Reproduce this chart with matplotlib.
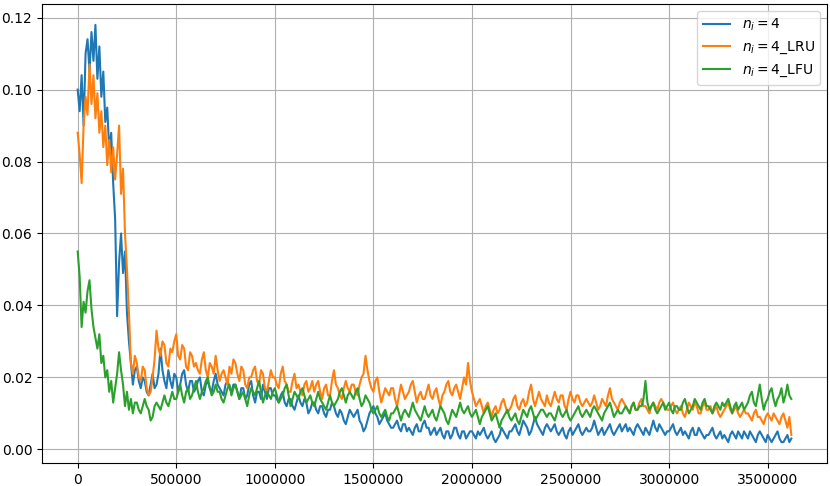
import numpy as np
import matplotlib
matplotlib.use('Agg')
import matplotlib.pyplot as plt

# training steps, one logged value every 10000 steps
steps = np.arange(0, 3620001, 10000)

n4 = [0.100, 0.094, 0.104, 0.090, 0.110, 0.114, 0.105, 0.116, 0.108, 0.118,
      0.103, 0.112, 0.098, 0.105, 0.091, 0.095, 0.083, 0.088, 0.074, 0.064,
      0.037, 0.052, 0.060, 0.049, 0.055, 0.038, 0.030, 0.024, 0.018, 0.022,
      0.023, 0.019, 0.017, 0.020, 0.019, 0.016, 0.015, 0.018, 0.021, 0.017,
      0.018, 0.021, 0.028, 0.022, 0.019, 0.017, 0.022, 0.019, 0.017, 0.021,
      0.020, 0.016, 0.018, 0.021, 0.022, 0.018, 0.016, 0.019, 0.019, 0.016,
      0.017, 0.019, 0.020, 0.016, 0.015, 0.018, 0.019, 0.017, 0.016, 0.019,
      0.021, 0.018, 0.017, 0.016, 0.015, 0.018, 0.019, 0.017, 0.016, 0.018,
      0.018, 0.016, 0.014, 0.017, 0.017, 0.014, 0.015, 0.018, 0.019, 0.015,
      0.013, 0.016, 0.016, 0.014, 0.018, 0.016, 0.014, 0.017, 0.017, 0.015,
      0.015, 0.014, 0.013, 0.015, 0.016, 0.013, 0.012, 0.014, 0.014, 0.012,
      0.011, 0.013, 0.015, 0.013, 0.012, 0.014, 0.013, 0.010, 0.011, 0.013,
      0.013, 0.011, 0.010, 0.012, 0.012, 0.010, 0.009, 0.011, 0.011, 0.013,
      0.012, 0.010, 0.009, 0.011, 0.010, 0.008, 0.007, 0.009, 0.011, 0.010,
      0.009, 0.010, 0.011, 0.008, 0.007, 0.005, 0.006, 0.008, 0.010, 0.011,
      0.012, 0.010, 0.009, 0.007, 0.008, 0.009, 0.010, 0.008, 0.007, 0.006,
      0.006, 0.007, 0.008, 0.006, 0.005, 0.007, 0.007, 0.005, 0.006, 0.005,
      0.004, 0.006, 0.007, 0.005, 0.005, 0.007, 0.008, 0.006, 0.006, 0.004,
      0.005, 0.006, 0.004, 0.005, 0.006, 0.004, 0.003, 0.005, 0.005, 0.003,
      0.004, 0.006, 0.006, 0.004, 0.003, 0.005, 0.005, 0.003, 0.004, 0.005,
      0.005, 0.004, 0.003, 0.005, 0.004, 0.005, 0.006, 0.004, 0.003, 0.004,
      0.005, 0.003, 0.002, 0.003, 0.004, 0.006, 0.005, 0.004, 0.003, 0.005,
      0.005, 0.006, 0.007, 0.005, 0.004, 0.006, 0.008, 0.007, 0.006, 0.004,
      0.005, 0.007, 0.009, 0.007, 0.006, 0.005, 0.004, 0.006, 0.007, 0.006,
      0.005, 0.006, 0.007, 0.005, 0.004, 0.005, 0.006, 0.004, 0.003, 0.005,
      0.006, 0.004, 0.005, 0.006, 0.007, 0.005, 0.004, 0.005, 0.006, 0.005,
      0.005, 0.006, 0.008, 0.006, 0.004, 0.005, 0.006, 0.004, 0.005, 0.006,
      0.007, 0.005, 0.004, 0.005, 0.006, 0.007, 0.005, 0.006, 0.007, 0.005,
      0.006, 0.005, 0.004, 0.006, 0.007, 0.006, 0.005, 0.004, 0.006, 0.005,
      0.004, 0.006, 0.008, 0.006, 0.005, 0.007, 0.006, 0.005, 0.004, 0.005,
      0.005, 0.006, 0.007, 0.005, 0.004, 0.005, 0.006, 0.004, 0.005, 0.004,
      0.003, 0.005, 0.006, 0.004, 0.004, 0.006, 0.005, 0.004, 0.003, 0.004,
      0.004, 0.005, 0.006, 0.004, 0.003, 0.004, 0.005, 0.003, 0.004, 0.003,
      0.002, 0.004, 0.005, 0.004, 0.003, 0.005, 0.004, 0.003, 0.005, 0.004,
      0.003, 0.005, 0.004, 0.003, 0.002, 0.004, 0.005, 0.004, 0.003, 0.002,
      0.004, 0.003, 0.002, 0.003, 0.004, 0.005, 0.003, 0.002, 0.002, 0.003,
      0.004, 0.002, 0.003]

n4_lru = [0.088, 0.082, 0.074, 0.090, 0.098, 0.093, 0.107, 0.096, 0.104, 0.092,
          0.099, 0.088, 0.094, 0.084, 0.090, 0.079, 0.086, 0.077, 0.084, 0.075,
          0.082, 0.090, 0.071, 0.078, 0.060, 0.050, 0.038, 0.024, 0.021, 0.026,
          0.024, 0.020, 0.019, 0.023, 0.022, 0.017, 0.015, 0.016, 0.020, 0.025,
          0.033, 0.028, 0.026, 0.030, 0.029, 0.024, 0.023, 0.028, 0.027, 0.030,
          0.032, 0.026, 0.025, 0.029, 0.028, 0.023, 0.022, 0.027, 0.026, 0.023,
          0.024, 0.022, 0.021, 0.025, 0.027, 0.022, 0.020, 0.024, 0.023, 0.021,
          0.026, 0.022, 0.019, 0.021, 0.022, 0.020, 0.018, 0.023, 0.021, 0.025,
          0.024, 0.021, 0.019, 0.023, 0.022, 0.018, 0.017, 0.020, 0.020, 0.022,
          0.023, 0.019, 0.018, 0.022, 0.021, 0.017, 0.016, 0.019, 0.022, 0.020,
          0.020, 0.018, 0.017, 0.021, 0.023, 0.019, 0.018, 0.016, 0.016, 0.019,
          0.021, 0.017, 0.018, 0.016, 0.015, 0.018, 0.019, 0.016, 0.017, 0.019,
          0.016, 0.018, 0.019, 0.016, 0.014, 0.017, 0.018, 0.015, 0.015, 0.019,
          0.022, 0.018, 0.017, 0.015, 0.014, 0.017, 0.019, 0.017, 0.016, 0.018,
          0.018, 0.016, 0.015, 0.018, 0.020, 0.021, 0.026, 0.022, 0.019, 0.017,
          0.016, 0.019, 0.020, 0.016, 0.013, 0.015, 0.017, 0.016, 0.015, 0.017,
          0.017, 0.014, 0.012, 0.015, 0.018, 0.016, 0.014, 0.015, 0.016, 0.018,
          0.019, 0.016, 0.013, 0.015, 0.016, 0.014, 0.014, 0.016, 0.018, 0.015,
          0.014, 0.016, 0.017, 0.014, 0.012, 0.015, 0.016, 0.018, 0.019, 0.016,
          0.015, 0.017, 0.018, 0.016, 0.014, 0.017, 0.020, 0.018, 0.024, 0.019,
          0.016, 0.014, 0.012, 0.013, 0.014, 0.012, 0.010, 0.012, 0.013, 0.011,
          0.009, 0.011, 0.012, 0.010, 0.011, 0.013, 0.014, 0.012, 0.010, 0.011,
          0.012, 0.014, 0.015, 0.012, 0.011, 0.013, 0.014, 0.012, 0.013, 0.016,
          0.018, 0.014, 0.012, 0.014, 0.016, 0.014, 0.013, 0.012, 0.015, 0.013,
          0.012, 0.014, 0.016, 0.014, 0.013, 0.015, 0.015, 0.012, 0.011, 0.014,
          0.016, 0.014, 0.013, 0.015, 0.015, 0.013, 0.012, 0.013, 0.014, 0.013,
          0.012, 0.013, 0.015, 0.013, 0.011, 0.012, 0.014, 0.013, 0.012, 0.015,
          0.017, 0.014, 0.013, 0.012, 0.011, 0.013, 0.014, 0.013, 0.012, 0.011,
          0.010, 0.012, 0.013, 0.011, 0.011, 0.013, 0.014, 0.012, 0.012, 0.011,
          0.010, 0.012, 0.013, 0.012, 0.011, 0.013, 0.014, 0.013, 0.012, 0.011,
          0.011, 0.012, 0.013, 0.011, 0.010, 0.011, 0.012, 0.010, 0.009, 0.011,
          0.013, 0.012, 0.011, 0.013, 0.012, 0.010, 0.010, 0.012, 0.013, 0.011,
          0.011, 0.012, 0.010, 0.011, 0.012, 0.010, 0.009, 0.010, 0.011, 0.012,
          0.013, 0.011, 0.010, 0.011, 0.012, 0.010, 0.009, 0.010, 0.011, 0.010,
          0.010, 0.009, 0.008, 0.010, 0.011, 0.009, 0.009, 0.008, 0.007, 0.009,
          0.010, 0.009, 0.008, 0.010, 0.009, 0.008, 0.007, 0.009, 0.010, 0.008,
          0.006, 0.009, 0.004]

n4_lfu = [0.055, 0.048, 0.034, 0.041, 0.038, 0.044, 0.047, 0.039, 0.034, 0.031,
          0.028, 0.032, 0.024, 0.026, 0.020, 0.022, 0.016, 0.019, 0.013, 0.017,
          0.021, 0.027, 0.022, 0.018, 0.012, 0.016, 0.011, 0.014, 0.010, 0.013,
          0.013, 0.011, 0.010, 0.012, 0.014, 0.012, 0.011, 0.008, 0.009, 0.012,
          0.013, 0.012, 0.011, 0.013, 0.015, 0.013, 0.012, 0.014, 0.016, 0.014,
          0.014, 0.016, 0.018, 0.015, 0.013, 0.016, 0.017, 0.014, 0.015, 0.017,
          0.019, 0.016, 0.014, 0.016, 0.017, 0.019, 0.020, 0.017, 0.015, 0.016,
          0.018, 0.016, 0.016, 0.014, 0.013, 0.015, 0.017, 0.018, 0.015, 0.017,
          0.018, 0.016, 0.014, 0.015, 0.016, 0.014, 0.012, 0.015, 0.017, 0.016,
          0.015, 0.017, 0.019, 0.016, 0.013, 0.015, 0.016, 0.015, 0.014, 0.016,
          0.017, 0.015, 0.013, 0.014, 0.015, 0.017, 0.018, 0.015, 0.012, 0.014,
          0.016, 0.015, 0.014, 0.016, 0.017, 0.015, 0.013, 0.014, 0.015, 0.013,
          0.012, 0.014, 0.016, 0.014, 0.013, 0.012, 0.011, 0.013, 0.015, 0.013,
          0.012, 0.013, 0.014, 0.016, 0.017, 0.015, 0.013, 0.015, 0.016, 0.015,
          0.014, 0.016, 0.017, 0.014, 0.012, 0.013, 0.015, 0.014, 0.013, 0.011,
          0.010, 0.011, 0.012, 0.010, 0.009, 0.010, 0.011, 0.009, 0.008, 0.010,
          0.010, 0.011, 0.012, 0.010, 0.008, 0.010, 0.011, 0.010, 0.009, 0.011,
          0.013, 0.011, 0.010, 0.009, 0.008, 0.010, 0.012, 0.010, 0.009, 0.010,
          0.011, 0.009, 0.008, 0.010, 0.012, 0.011, 0.010, 0.008, 0.007, 0.009,
          0.011, 0.010, 0.009, 0.011, 0.013, 0.011, 0.010, 0.011, 0.012, 0.010,
          0.009, 0.010, 0.011, 0.009, 0.007, 0.009, 0.010, 0.011, 0.012, 0.010,
          0.008, 0.009, 0.010, 0.008, 0.006, 0.008, 0.009, 0.010, 0.011, 0.009,
          0.008, 0.009, 0.010, 0.008, 0.007, 0.009, 0.011, 0.010, 0.009, 0.011,
          0.012, 0.010, 0.008, 0.009, 0.010, 0.011, 0.011, 0.010, 0.009, 0.010,
          0.010, 0.009, 0.008, 0.010, 0.012, 0.010, 0.009, 0.010, 0.011, 0.009,
          0.008, 0.009, 0.010, 0.011, 0.012, 0.010, 0.009, 0.010, 0.011, 0.010,
          0.009, 0.011, 0.012, 0.011, 0.010, 0.009, 0.008, 0.010, 0.011, 0.012,
          0.013, 0.011, 0.009, 0.010, 0.011, 0.010, 0.010, 0.011, 0.012, 0.011,
          0.010, 0.012, 0.013, 0.011, 0.011, 0.012, 0.012, 0.014, 0.019, 0.013,
          0.011, 0.012, 0.013, 0.011, 0.010, 0.011, 0.012, 0.013, 0.011, 0.012,
          0.013, 0.011, 0.010, 0.012, 0.012, 0.011, 0.011, 0.013, 0.014, 0.012,
          0.010, 0.011, 0.012, 0.014, 0.013, 0.012, 0.011, 0.013, 0.014, 0.012,
          0.012, 0.011, 0.010, 0.012, 0.013, 0.012, 0.011, 0.013, 0.012, 0.013,
          0.014, 0.012, 0.010, 0.012, 0.013, 0.011, 0.012, 0.013, 0.011, 0.012,
          0.013, 0.015, 0.016, 0.013, 0.012, 0.015, 0.018, 0.014, 0.011, 0.013,
          0.014, 0.016, 0.017, 0.014, 0.012, 0.014, 0.015, 0.017, 0.013, 0.015,
          0.018, 0.015, 0.014]

fig = plt.figure(figsize=(8.3, 4.86), dpi=100)
ax = fig.add_axes([0.0506, 0.0473, 0.9458, 0.9445])

ax.plot(steps, n4, label='$n_i=4$')
ax.plot(steps, n4_lru, label='$n_i=4$_LRU')
ax.plot(steps, n4_lfu, label='$n_i=4$_LFU')

ax.ticklabel_format(style='plain', axis='x')
ax.grid(True)
ax.legend(loc='upper right')

plt.savefig('out.png', dpi=100)
